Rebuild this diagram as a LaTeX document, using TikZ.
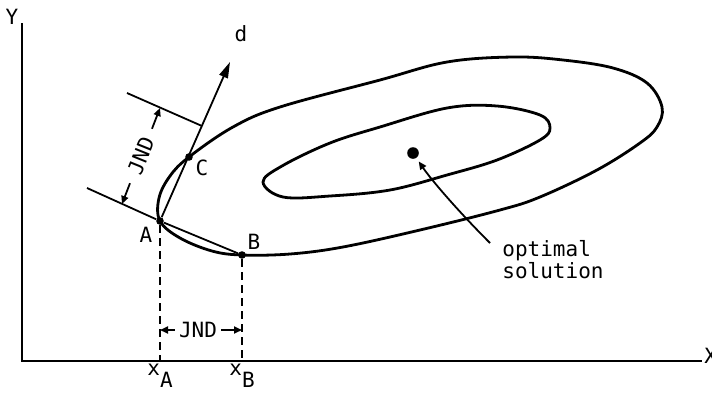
\documentclass[tikz,border=0pt]{standalone}
\usepackage{fontspec}
\setmainfont{DejaVu Sans Mono}
\usetikzlibrary{arrows.meta, calc}
\tikzstyle{contour} = [line width=1.4pt, line join=round]
\tikzstyle{axis} = [line width=1pt]
\tikzstyle{thinline} = [line width=0.9pt]
\tikzstyle{dashline} = [line width=0.9pt, dash pattern=on 4pt off 2.5pt]
\tikzstyle{dimarrow} = [-{Triangle[length=4pt,width=3.5pt]}, line width=0.9pt]
\tikzstyle{vec} = [-{Triangle[length=8pt,width=4.5pt]}, line width=0.9pt]
\tikzstyle{lbl} = [font=\fontsize{10.5}{11}\selectfont, inner sep=0pt]
\tikzstyle{dot} = [circle, fill=black, inner sep=0pt, minimum size=3.8pt]
\begin{document}
\begin{tikzpicture}[x=0.5pt, y=-0.5pt]
    \useasboundingbox (0,0) rectangle (712,392);
    % Axes
    \coordinate (O) at (22,361);
    \coordinate (ytop) at (22,23);
    \coordinate (xend) at (702,361);
    \draw[axis] (ytop) -- (O) -- (xend);
    \node[lbl] (ylab) at (12,17) {Y};
    \node[lbl, anchor=west] (xlab) at (704,356) {X};
    % Points
    \node[dot] (A) at (160,221) {};
    \node[dot] (B) at (242,255) {};
    \node[dot] (C) at (189,157) {};
    \node[dot, minimum size=5.8pt] (opt) at (413,153) {};
    \coordinate (dtip) at (230,62);
    % Contours
    \draw[contour] plot[smooth cycle, tension=0.6] coordinates {(A) (180,238) (212,251) (B) (290,254) (343,247) (420,230) (500,210) (540,197) (597,170) (640,143) (657,127) (662,107) (647,83) (613,68) (563,60) (513,57) (447,62) (380,80) (280,107) (233,127) (C) (170,176) (159,198)};
    \draw[contour] plot[smooth cycle, tension=0.6] coordinates {(263,182) (282,166) (330,143) (380,127) (447,108) (497,106) (540,115) (550,128) (540,140) (497,160) (447,175) (390,190) (330,196) (283,197)};
    % Labels
    \node[lbl] (alab) at (146,235) {A};
    \node[lbl] (blab) at (254,242) {B};
    \node[lbl] (clab) at (202,168) {C};
    \node[lbl] (dlab) at (241,34) {d};
    \node[lbl, anchor=base] (xa) at (160,375) {x\raisebox{-6pt}{A}};
    \node[lbl, anchor=base] (xb) at (242,375) {x\raisebox{-6pt}{B}};
    \node[lbl, align=left, anchor=north west] (opttext) at (502,240) {optimal\\solution};
    % Direction and tangents
    \draw[vec] (A) -- (dtip);
    \draw[thinline] (A) -- (B);
    \coordinate (t1) at (87,188);
    \coordinate (u1) at (127,93);
    \coordinate (u2) at (202,126);
    \draw[thinline] (t1) -- (A);
    \draw[thinline] (u1) -- (u2);
    % JND along d
    \coordinate (jl) at (122,204);
    \coordinate (ju) at (160,108);
    \node[lbl, rotate=68, inner sep=5pt] (jnd1) at ($(jl)!0.5!(ju)$) {JND};
    \draw[dimarrow] (jnd1.west) -- (jl);
    \draw[dimarrow] (jnd1.east) -- (ju);
    % JND along x
    \draw[dashline] (A) -- (A |- O);
    \draw[dashline] (B) -- (B |- O);
    \node[lbl, inner sep=2pt] (jnd2) at (198,330) {JND};
    \draw[dimarrow] (jnd2.west) -- (jnd2.west -| A);
    \draw[dimarrow] (jnd2.east) -- (jnd2.east -| B);
    % Leader to optimum
    \coordinate (lead) at (490,243);
    \draw[dimarrow, shorten >=2pt] (lead) .. controls (455,208) and (430,178) .. (opt);
\end{tikzpicture}
\end{document}
